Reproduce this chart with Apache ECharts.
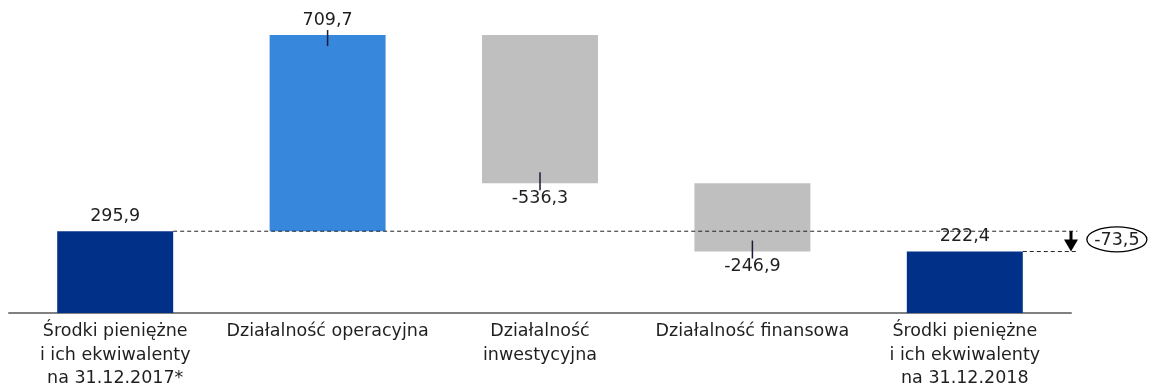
<!DOCTYPE html>
<html><head><meta charset="utf-8">
<script src="https://cdn.jsdelivr.net/npm/echarts@6/dist/echarts.min.js"></script>
<style>html,body{margin:0;padding:0;background:#fff}#c{width:1149px;height:385px}</style>
</head><body><div id="c"></div>
<script>
const categories = ['Środki pieniężne\ni ich ekwiwalenty\nna 31.12.2017*', 'Działalność operacyjna', 'Działalność\ninwestycyjna', 'Działalność finansowa', 'Środki pieniężne\ni ich ekwiwalenty\nna 31.12.2018'];
const values = [295.9, 709.7, -536.3, -246.9, 222.4];
const kinds = ['total', 'step', 'step', 'step', 'total'];
const colors = ['#003087', '#3787dd', '#bfbfbf', '#bfbfbf', '#003087'];
const netChange = [-73.5];

const fmt = v => v.toFixed(1).replace('.', ',');
// waterfall bases
const bases = [], heights = [];
let run = 0;
values.forEach((v, i) => {
  if (kinds[i] === 'total') { bases.push(0); heights.push(v); run = v; }
  else if (v >= 0) { bases.push(run); heights.push(v); run += v; }
  else { run += v; bases.push(run); heights.push(-v); }
});
const FONT = 'DejaVu Sans';
const FS = 17.5;
const BW = 0.546;

const chart = echarts.init(document.getElementById('c'));
chart.setOption({
  animation: false,
  grid: { left: 9, right: 78, top: 9, bottom: 72, outerBoundsMode: 'none', containLabel: false },
  xAxis: {
    type: 'category', data: categories,
    axisLine: { lineStyle: { color: '#808080', width: 2 } },
    axisTick: { show: false },
    axisLabel: { interval: 0, margin: 7, color: '#1f1f1f', fontFamily: FONT, fontSize: FS, lineHeight: 23.5 }
  },
  yAxis: { type: 'value', min: 0, max: 1100, show: false, splitLine: { show: false } },
  series: [
    { type: 'bar', stack: 'w', data: bases, itemStyle: { color: 'transparent' }, barWidth: (BW * 100) + '%', silent: true },
    {
      type: 'bar', stack: 'w', barWidth: (BW * 100) + '%',
      data: heights.map((h, i) => ({
        value: h,
        itemStyle: { color: colors[i] },
        label: {
          show: true,
          position: values[i] < 0 ? 'bottom' : 'top',
          distance: 6,
          formatter: () => fmt(values[i]),
          color: '#1f1f1f', fontFamily: FONT, fontSize: FS
        }
      }))
    },
    {
      type: 'custom', clip: false, z: 10, data: [[0]],
      renderItem: (params, api) => {
        const catW = api.size([1, 0])[0];
        const half = catW * BW / 2;
        const children = [];
        // ticks at step bars
        values.forEach((v, i) => {
          if (kinds[i] !== 'step') return;
          const edge = v >= 0 ? bases[i] + heights[i] : bases[i];
          const p = api.coord([i, edge]);
          const y1 = v >= 0 ? p[1] - 5 : p[1] - 11;
          const y2 = v >= 0 ? p[1] + 11 : p[1] + 7;
          children.push({ type: 'line', shape: { x1: p[0], y1: y1, x2: p[0], y2: y2 }, style: { stroke: '#1a1a3a', lineWidth: 1.5 } });
        });
        const first = api.coord([0, values[0]]);
        const last = api.coord([4, values[4]]);
        const xEnd = last[0] + catW * 0.53;
        children.push({ type: 'line', shape: { x1: first[0] + half, y1: first[1], x2: xEnd, y2: first[1] }, style: { stroke: '#222', lineWidth: 1, lineDash: [4, 3] } });
        children.push({ type: 'line', shape: { x1: last[0] + half, y1: last[1], x2: xEnd, y2: last[1] }, style: { stroke: '#222', lineWidth: 1, lineDash: [4, 3] } });
        // arrow
        const ax = last[0] + catW * 0.5;
        children.push({ type: 'line', shape: { x1: ax, y1: first[1], x2: ax, y2: last[1] - 8 }, style: { stroke: '#000', lineWidth: 3 } });
        children.push({ type: 'polygon', shape: { points: [[ax - 7, last[1] - 12], [ax + 7, last[1] - 12], [ax, last[1]]] }, style: { fill: '#000' } });
        // ellipse label
        const cx = last[0] + catW * 0.716;
        const cy = (first[1] + last[1]) / 2 - 2;
        children.push({ type: 'ellipse', shape: { cx: cx, cy: cy, rx: 30, ry: 12.5 }, style: { fill: '#fff', stroke: '#000', lineWidth: 1.3 } });
        children.push({ type: 'text', style: { x: cx, y: cy + 1, text: fmt(netChange[0]), align: 'center', verticalAlign: 'middle', fill: '#1f1f1f', font: FS + 'px "DejaVu Sans"' } });
        return { type: 'group', children: children };
      }
    }
  ]
});
</script></body></html>
